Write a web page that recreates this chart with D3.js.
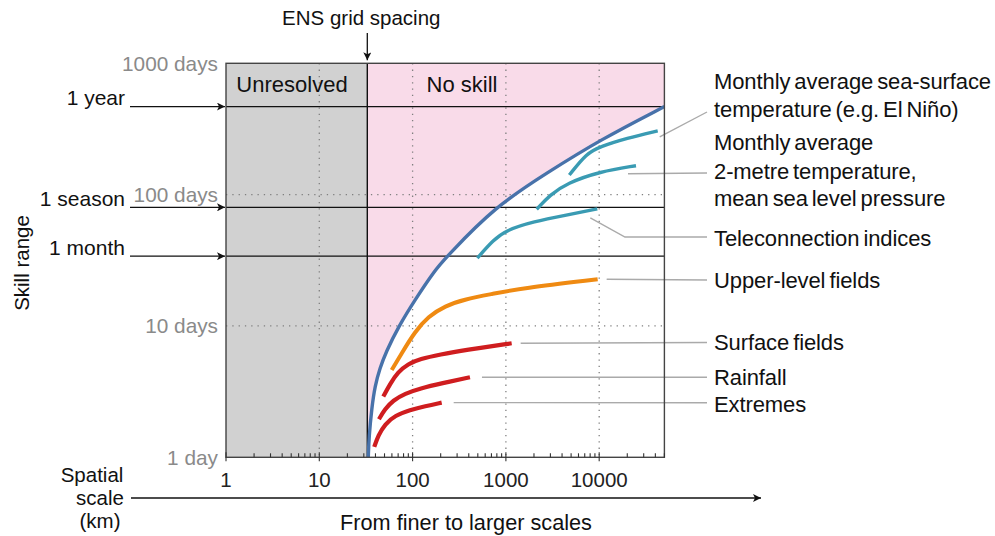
<!DOCTYPE html>
<html>
<head>
<meta charset="utf-8">
<script src="https://cdn.jsdelivr.net/npm/d3@7/dist/d3.min.js"></script>
<style>
  body { margin: 0; background: #fff; }
  text { font-family: "Liberation Sans", Arial, sans-serif; }
</style>
</head>
<body>
<div id="chart"></div>
<script>
// svg size
var svgWidth = 995, svgHeight = 536;

// ---- data ----
var xTicks = [1, 10, 100, 1000, 10000];
var xTickLabels = ["1", "10", "100", "1000", "10000"];
var yTicks = [1, 10, 100, 1000];
var yTickLabels = ["1 day", "10 days", "100 days", "1000 days"];

var ensGridKm = 32.7;
var periodNames = ["1 year", "1 season", "1 month"];
var periodDays = [468, 80, 34];

// envelope of predictability (blue)
var envelopeKm   = [33.5, 34.1, 36.5, 39.5, 44.7, 51.9, 70.3, 106, 174, 232, 764, 2735, 10200, 50000];
var envelopeDays = [1, 1.43, 2.37, 3.49, 4.79, 6.34, 9.83, 15.8, 26.7, 33.7, 81, 146, 261, 468];

var sstKm   = [4786, 7350, 10200, 19700, 42400];
var sstDays = [141, 207, 232, 269, 306];

var t2mKm   = [2138, 2970, 4487, 10200, 24800];
var t2mDays = [77.4, 99.5, 122, 150, 166];

var teleKm   = [494, 733, 1020, 1968, 4487, 9550];
var teleDays = [32.8, 45.2, 53.8, 62.3, 70, 77.8];

var upperKm   = [59.7, 76.4, 106, 147, 222, 365, 704, 1476, 9630];
var upperDays = [4.62, 6.2, 9.05, 11.8, 14.2, 16, 17.5, 19.4, 22.7];

var surfKm   = [48.5, 57.3, 69.7, 89.3, 120, 197, 365, 1153];
var surfDays = [2.9, 3.62, 4.46, 5.14, 5.61, 6.07, 6.56, 7.38];

var rainKm   = [43.6, 50.6, 61.6, 83, 120, 205, 412];
var rainDays = [1.95, 2.33, 2.71, 3.06, 3.34, 3.66, 4.07];

var extKm   = [38.8, 42.9, 50.6, 64.8, 93.7, 136, 205];
var extDays = [1.2, 1.47, 1.79, 2.08, 2.29, 2.45, 2.61];

// ---- scales ----
var x = d3.scaleLog().domain([1, 50000]).range([226, 664.4]);
var y = d3.scaleLog().domain([1, 1000]).range([457.3, 63.3]);
var x0 = x.range()[0], x1 = x.range()[1], yB = y.range()[0], yT = y.range()[1];

var svg = d3.select("#chart").append("svg")
  .attr("width", svgWidth)
  .attr("height", svgHeight);

var defs = svg.append("defs");
defs.append("marker")
  .attr("id", "arr")
  .attr("viewBox", "0 0 10 10")
  .attr("refX", 10).attr("refY", 5)
  .attr("markerWidth", 11).attr("markerHeight", 8)
  .attr("markerUnits", "userSpaceOnUse")
  .attr("orient", "auto")
  .append("path")
  .attr("d", "M0,0 L10,5 L0,10 L2.5,5 Z")
  .attr("fill", "#111");

function pts(kms, days) {
  return kms.map(function(k, i) { return [x(k), y(days[i])]; });
}
var lineGen = d3.line().curve(d3.curveBasis);

// background regions
svg.append("rect")
  .attr("x", x0).attr("y", yT)
  .attr("width", x(ensGridKm) - x0).attr("height", yB - yT)
  .attr("fill", "#d1d1d1");

var envPts = pts(envelopeKm, envelopeDays);
var pinkPath = lineGen(envPts) +
  "L" + x1 + "," + yT + "L" + x(ensGridKm) + "," + yT + "L" + x(ensGridKm) + "," + yB + "Z";
svg.append("path").attr("d", pinkPath).attr("fill", "#f9dbe9");

// dotted grid
var grid = svg.append("g").attr("stroke", "#808080").attr("stroke-width", 1.3)
  .attr("stroke-dasharray", "1.3,5");
grid.selectAll(".vg").data(xTicks.slice(1))
  .enter().append("line")
  .attr("x1", function(d) { return x(d); }).attr("x2", function(d) { return x(d); })
  .attr("y1", yT).attr("y2", yB);
grid.selectAll(".hg").data([10, 100])
  .enter().append("line")
  .attr("x1", x0).attr("x2", x1)
  .attr("y1", function(d) { return y(d); }).attr("y2", function(d) { return y(d); });

// period lines with arrows
var per = svg.append("g");
periodNames.forEach(function(name, i) {
  var py = y(periodDays[i]);
  per.append("line")
    .attr("x1", 130).attr("x2", x0 - 1).attr("y1", py).attr("y2", py)
    .attr("stroke", "#111").attr("stroke-width", 1.3)
    .attr("marker-end", "url(#arr)");
  per.append("line")
    .attr("x1", x0).attr("x2", x1).attr("y1", py).attr("y2", py)
    .attr("stroke", "#111").attr("stroke-width", 1.3);
  per.append("text")
    .attr("x", 125).attr("y", py - 1.5)
    .attr("text-anchor", "end")
    .attr("font-size", "21px").attr("fill", "#111")
    .text(name);
});

// ENS grid line
svg.append("line")
  .attr("x1", x(ensGridKm)).attr("x2", x(ensGridKm))
  .attr("y1", yT).attr("y2", yB)
  .attr("stroke", "#111").attr("stroke-width", 1.4);
svg.append("line")
  .attr("x1", x(ensGridKm)).attr("x2", x(ensGridKm))
  .attr("y1", 33).attr("y2", yT - 3)
  .attr("stroke", "#111").attr("stroke-width", 1.3)
  .attr("marker-end", "url(#arr)");
svg.append("text")
  .attr("x", x(ensGridKm) - 6).attr("y", 18).attr("dy", "0.35em")
  .attr("text-anchor", "middle").attr("font-size", "20.5px").attr("fill", "#111")
  .text("ENS grid spacing");

svg.append("text")
  .attr("x", 292).attr("y", 84).attr("dy", "0.35em")
  .attr("text-anchor", "middle").attr("font-size", "22px").attr("fill", "#111")
  .text("Unresolved");
svg.append("text")
  .attr("x", 462).attr("y", 84).attr("dy", "0.35em")
  .attr("text-anchor", "middle").attr("font-size", "22px").attr("fill", "#111")
  .text("No skill");

// curves
var series = [
  {name: "sst", km: sstKm, days: sstDays, color: "#3a9bb3", w: 3.4, lead: [[2, 6], [707, 112]]},
  {name: "t2m", km: t2mKm, days: t2mDays, color: "#3a9bb3", w: 3.4, lead: [[-8, 8], [707, 173]]},
  {name: "tele", km: teleKm, days: teleDays, color: "#3a9bb3", w: 3.4, lead: [[-7, 9], [625, 237], [707, 237]]},
  {name: "upper", km: upperKm, days: upperDays, color: "#ef8a12", w: 4, lead: [[9, 0], [707, 280]]},
  {name: "surf", km: surfKm, days: surfDays, color: "#cf1d1f", w: 4.2, lead: [[9, 0], [707, 342.5]]},
  {name: "rain", km: rainKm, days: rainDays, color: "#cf1d1f", w: 4.2, lead: [[12, 0], [707, 377.3]]},
  {name: "ext", km: extKm, days: extDays, color: "#cf1d1f", w: 4.2, lead: [[12, 0], [707, 402.7]]}
];

series.forEach(function(s) {
  var p = pts(s.km, s.days);
  svg.append("path")
    .attr("d", lineGen(p))
    .attr("fill", "none").attr("stroke", s.color)
    .attr("stroke-width", s.w);
  var last = p[p.length - 1];
  var lp = [[last[0] + s.lead[0][0], last[1] + s.lead[0][1]]].concat(s.lead.slice(1));
  svg.append("path")
    .attr("d", d3.line()(lp))
    .attr("fill", "none").attr("stroke", "#aaa").attr("stroke-width", 1.4);
});

svg.append("path")
  .attr("d", lineGen(envPts))
  .attr("fill", "none").attr("stroke", "#4872aa").attr("stroke-width", 3.4);

// frame
svg.append("rect")
  .attr("x", x0).attr("y", yT).attr("width", x1 - x0).attr("height", yB - yT)
  .attr("fill", "none").attr("stroke", "#444").attr("stroke-width", 1.4);

// x axis ticks
var minor = [];
for (var e = 0; e < 5; e++) {
  for (var m = 2; m <= 9; m++) {
    var v = m * Math.pow(10, e);
    if (v <= 50000) minor.push(v);
  }
}
var ax = svg.append("g").attr("stroke", "#333").attr("stroke-width", 1.1);
ax.selectAll(".mt").data(minor).enter().append("line")
  .attr("x1", function(d) { return x(d); }).attr("x2", function(d) { return x(d); })
  .attr("y1", yB).attr("y2", yB - 4);
ax.selectAll(".Mt").data(xTicks).enter().append("line")
  .attr("x1", function(d) { return x(d); }).attr("x2", function(d) { return x(d); })
  .attr("y1", yB + 4).attr("y2", yB - 5);

svg.selectAll(".xl").data(xTicks).enter().append("text")
  .attr("x", function(d) { return x(d); }).attr("y", 480).attr("dy", "0.35em")
  .attr("text-anchor", "middle").attr("font-size", "20.5px").attr("fill", "#222")
  .text(function(d, i) { return xTickLabels[i]; });

svg.selectAll(".yl").data(yTicks).enter().append("text")
  .attr("x", 218).attr("y", function(d) { return y(d); }).attr("dy", "0.35em")
  .attr("text-anchor", "end").attr("font-size", "20.8px").attr("fill", "#8a8a8a")
  .text(function(d, i) { return yTickLabels[i]; });

// axis titles
svg.append("text")
  .attr("transform", "translate(22,263) rotate(-90)").attr("dy", "0.35em")
  .attr("text-anchor", "middle").attr("font-size", "20.5px").attr("fill", "#111")
  .text("Skill range");

var sp = svg.append("g").attr("font-size", "20.5px").attr("fill", "#111").attr("text-anchor", "middle");
sp.append("text").attr("x", 92).attr("y", 475).attr("dy", "0.35em").text("Spatial");
sp.append("text").attr("x", 100).attr("y", 498).attr("dy", "0.35em").text("scale");
sp.append("text").attr("x", 100).attr("y", 521).attr("dy", "0.35em").text("(km)");
svg.append("line")
  .attr("x1", 131).attr("x2", 761).attr("y1", 498).attr("y2", 498)
  .attr("stroke", "#111").attr("stroke-width", 1.3)
  .attr("marker-end", "url(#arr)");
svg.append("text")
  .attr("x", 466).attr("y", 522).attr("dy", "0.35em")
  .attr("text-anchor", "middle").attr("font-size", "21.7px").attr("fill", "#111")
  .text("From finer to larger scales");

// right-hand labels
var labelLines = [
  ["Monthly average sea-surface", 81],
  ["temperature (e.g. El Niño)", 109],
  ["Monthly average", 142],
  ["2-metre temperature,", 171],
  ["mean sea level pressure", 198],
  ["Teleconnection indices", 238],
  ["Upper-level fields", 280],
  ["Surface fields", 342],
  ["Rainfall", 377],
  ["Extremes", 404]
];
svg.selectAll(".rl").data(labelLines).enter().append("text")
  .attr("x", 714).attr("y", function(d) { return d[1]; }).attr("dy", "0.35em")
  .attr("font-size", "22px").attr("fill", "#111")
  .attr("letter-spacing", "-0.1px").attr("word-spacing", "-2px")
  .text(function(d) { return d[0]; });
</script>
</body>
</html>
